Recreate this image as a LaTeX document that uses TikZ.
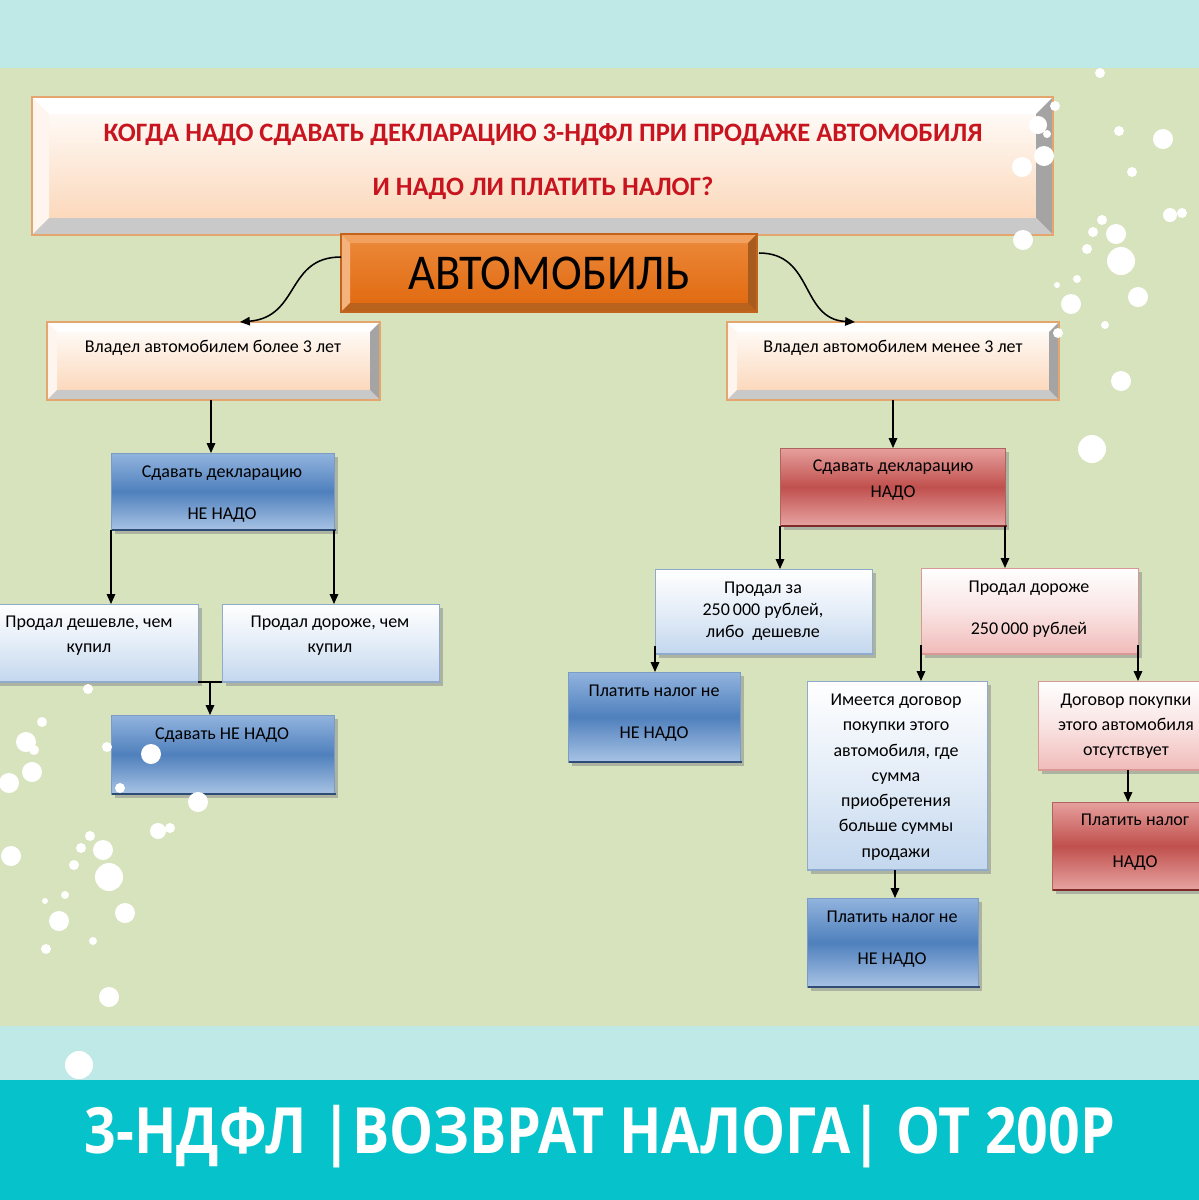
\documentclass[tikz,border=0pt]{standalone}
\usepackage{fontspec}
\setmainfont{Carlito}
\newfontfamily\bannerfont{Open Sans}
\usetikzlibrary{arrows.meta,calc,fit}
\definecolor{bandc}{HTML}{BEE9E6}
\definecolor{greenbg}{HTML}{D7E3BC}
\definecolor{tealc}{HTML}{06C2CA}
\definecolor{titler}{HTML}{C8141E}
\definecolor{peach}{HTML}{FBD3B2}
\definecolor{peachbd}{HTML}{E4A56E}
\definecolor{bvgrey}{HTML}{A4A4A4}
\definecolor{bvgrey2}{HTML}{C9C9C9}
\definecolor{bvlight}{HTML}{FEF5EE}
\definecolor{orA}{HTML}{EC8A3C}
\definecolor{orB}{HTML}{E0670C}
\definecolor{orL}{HTML}{F4B27C}
\definecolor{orT}{HTML}{F1A05E}
\definecolor{orR}{HTML}{A85B1E}
\definecolor{orD}{HTML}{B8621E}
\definecolor{orBd}{HTML}{C4641C}
\definecolor{blT}{HTML}{92B4DE}
\definecolor{blM}{HTML}{4F80BD}
\definecolor{blB}{HTML}{A8C3E4}
\definecolor{blBd}{HTML}{7C9CC6}
\definecolor{blDk}{HTML}{2E4C74}
\definecolor{rdT}{HTML}{E6A09E}
\definecolor{rdM}{HTML}{C0504D}
\definecolor{rdB}{HTML}{E7A4A2}
\definecolor{rdBd}{HTML}{B06462}
\definecolor{rdDk}{HTML}{7E2B29}
\definecolor{lbB}{HTML}{C3D7EE}
\definecolor{lbBd}{HTML}{8FAACB}
\definecolor{pkB}{HTML}{F0BBB9}
\definecolor{pkBd}{HTML}{D79896}
\tikzset{
  arr/.style={line width=1.1pt, -{Triangle[length=7pt,width=6pt]}},
  ln/.style={line width=1.1pt},
  lbl/.style={inner sep=0pt, align=center, font=\fontsize{12.8pt}{17.8pt}\selectfont},
  dotc/.style={fill=white},
}
\newcommand\mkbox[5]{\coordinate (#1-a) at (#2,#3); \coordinate (#1-b) at (#4,#5);
  \node[fit=(#1-a)(#1-b), inner sep=0pt, outer sep=0pt] (#1) {};}
\newcommand\bevel[9]{%
  \shade[top color=#3, bottom color=#4] (#1.north west) rectangle (#1.south east);
  \fill[#5] (#1.north west) -- (#1.north east) -- ($(#1.north east)+(-#2,#2)$) -- ($(#1.north west)+(#2,#2)$) -- cycle;
  \fill[#6] (#1.north west) -- ($(#1.north west)+(#2,#2)$) -- ($(#1.south west)+(#2,-#2)$) -- (#1.south west) -- cycle;
  \fill[#7] (#1.north east) -- (#1.south east) -- ($(#1.south east)+(-#2,-#2)$) -- ($(#1.north east)+(-#2,#2)$) -- cycle;
  \fill[#8] (#1.south west) -- (#1.south east) -- ($(#1.south east)+(-#2,-#2)$) -- ($(#1.south west)+(#2,-#2)$) -- cycle;
  \draw[#9, line width=0.8pt] (#1.north west) rectangle (#1.south east);
}
\newcommand\flatbox[6]{%
  \fill[black!45, opacity=.55] ($(#1.north west)+(4,4)$) rectangle ($(#1.south east)+(4,4)$);
  \shade[top color=#2, bottom color=#4, middle color=#3] (#1.north west) rectangle (#1.south east);
  \draw[#5, line width=0.6pt] (#1.north west) rectangle (#1.south east);
  \draw[#6, line width=2pt] ($(#1.south west)+(1,0)$) -- ($(#1.south east)+(2,0)$);
}
\begin{document}
\begin{tikzpicture}[x=0.25mm,y=-0.25mm]
\useasboundingbox (0,0) rectangle (1199,1200);
\clip (0,0) rectangle (1199,1200);
% background bands
\fill[bandc] (0,0) rectangle (1199,68);
\fill[greenbg] (0,68) rectangle (1199,1026);
\fill[bandc] (0,1026) rectangle (1199,1080);
\fill[tealc] (0,1080) rectangle (1199,1200);

% box geometry
\mkbox{title}{32}{97}{1053}{235}
\mkbox{avto}{341}{234}{757}{312}
\mkbox{vl1}{47}{322}{380}{400}
\mkbox{vl2}{727}{322}{1059}{400}
\mkbox{bl1}{111}{453}{334}{530}
\mkbox{pd1}{-6}{604}{198}{682}
\mkbox{pd2}{222}{604}{439}{682}
\mkbox{bl2}{111}{715}{334}{794}
\mkbox{rd1}{780}{448}{1005}{526}
\mkbox{pz}{655}{569}{872}{654}
\mkbox{pdr}{921}{568}{1138}{654}
\mkbox{bl3}{568}{672}{740}{762}
\mkbox{im}{807}{681}{987}{870}
\mkbox{dg}{1038}{681}{1212}{770}
\mkbox{rd2}{1052}{802}{1212}{890}
\mkbox{bl4}{807}{898}{978}{987}

% beveled boxes
\bevel{title}{17}{white}{peach}{white}{bvlight}{bvgrey}{bvgrey2}{peachbd}
\bevel{vl1}{10}{white}{peach}{white}{bvlight}{bvgrey}{bvgrey2}{peachbd}
\bevel{vl2}{10}{white}{peach}{white}{bvlight}{bvgrey}{bvgrey2}{peachbd}
\bevel{avto}{9}{orA}{orB}{orT}{orL}{orR}{orD}{orBd}

% flat boxes
\flatbox{bl1}{blT}{blM}{blB}{blBd}{blDk}
\flatbox{bl2}{blT}{blM}{blB}{blBd}{blDk}
\flatbox{bl3}{blT}{blM}{blB}{blBd}{blDk}
\flatbox{bl4}{blT}{blM}{blB}{blBd}{blDk}
\flatbox{rd1}{rdT}{rdM}{rdB}{rdBd}{rdDk}
\flatbox{rd2}{rdT}{rdM}{rdB}{rdBd}{rdDk}
\flatbox{pd1}{white}{lbB!45}{lbB}{lbBd}{lbBd}
\flatbox{pd2}{white}{lbB!45}{lbB}{lbBd}{lbBd}
\flatbox{pz}{white}{lbB!45}{lbB}{lbBd}{lbBd}
\flatbox{im}{white}{lbB!45}{lbB}{lbBd}{lbBd}
\flatbox{pdr}{white}{pkB!40}{pkB}{pkBd}{pkBd}
\flatbox{dg}{white}{pkB!40}{pkB}{pkBd}{pkBd}

% texts
\node[lbl, text=titler, font=\bfseries\fontsize{18.9pt}{38.4pt}\selectfont] (title-t) at (543,162)
  {КОГДА НАДО СДАВАТЬ ДЕКЛАРАЦИЮ 3-НДФЛ ПРИ ПРОДАЖЕ АВТОМОБИЛЯ\\И НАДО ЛИ ПЛАТИТЬ НАЛОГ?};
\node[lbl, font=\fontsize{33pt}{36pt}\selectfont] (avto-t) at (549,273) {\scalebox{1}[1.08]{АВТОМОБИЛЬ}};
\node[lbl] (vl1-t) at (213,348) {Владел автомобилем более 3 лет};
\node[lbl] (vl2-t) at (893,348) {Владел автомобилем менее 3 лет};
\node[lbl, font=\fontsize{12.8pt}{29.9pt}\selectfont] (bl1-t) at (222,494) {Сдавать декларацию\\НЕ НАДО};
\node[lbl] (pd1-t) at (89,636) {Продал дешевле, чем\\купил};
\node[lbl] (pd2-t) at (330,636) {Продал дороже, чем\\купил};
\node[lbl] (bl2-t) at (222,735) {Сдавать НЕ НАДО};
\node[lbl, font=\fontsize{12.8pt}{18.5pt}\selectfont] (rd1-t) at (893,480) {Сдавать декларацию\\НАДО};
\node[lbl, font=\fontsize{12.8pt}{15.6pt}\selectfont] (pz-t) at (763,611) {Продал за\\250\,000 рублей,\\либо~ дешевле};
\node[lbl, font=\fontsize{12.8pt}{29.9pt}\selectfont] (pdr-t) at (1029,609) {Продал дороже\\250\,000 рублей};
\node[lbl, font=\fontsize{12.8pt}{29.9pt}\selectfont] (bl3-t) at (654,713) {Платить налог не\\НЕ НАДО};
\node[lbl, font=\fontsize{12.8pt}{18pt}\selectfont] (im-t) at (896,777) {Имеется договор\\покупки этого\\автомобиля, где\\сумма\\приобретения\\больше суммы\\продажи};
\node[lbl, font=\fontsize{12.8pt}{18pt}\selectfont] (dg-t) at (1126,726) {Договор покупки\\этого автомобиля\\отсутствует};
\node[lbl, font=\fontsize{12.8pt}{29.9pt}\selectfont] (rd2-t) at (1135,842) {Платить налог\\НАДО};
\node[lbl, font=\fontsize{12.8pt}{29.9pt}\selectfont] (bl4-t) at (892,939) {Платить налог не\\НЕ НАДО};

% connectors
\coordinate (avL) at ($(avto.north west)+(0,23)$);
\coordinate (avR) at ($(avto.north east)+(2,19)$);
\coordinate (vl1top) at ($(vl1.north west)+(193,0)$);
\coordinate (vl2top) at ($(vl2.north west)+(128,0)$);
\draw[arr] (avL) .. controls ++(-55,0) and ++(60,-5) .. (vl1top);
\draw[arr] (avR) .. controls ++(55,0) and ++(-55,-3) .. (vl2top);

\coordinate (c1) at ($(vl1.south west)+(164,0)$);
\draw[arr] (c1) -- (c1 |- bl1.north);
\draw[arr] (bl1.south west) -- (bl1.south west |- pd1.north);
\draw[arr] (bl1.south east) -- (bl1.south east |- pd2.north);
\draw[ln] (pd1.south east) -- (pd2.south west);
\coordinate (pdmid) at ($(pd1.south east)!0.5!(pd2.south west)$);
\draw[arr] (pdmid) -- (pdmid |- bl2.north);

\coordinate (c2) at ($(vl2.south west)+(166,0)$);
\draw[arr] (c2) -- (c2 |- rd1.north);
\draw[arr] (rd1.south west) -- (rd1.south west |- pz.north);
\draw[arr] (rd1.south east) -- (rd1.south east |- pdr.north);
\coordinate (c3) at ($(pz.south west)+(0,-8)$);
\draw[arr] (c3) -- (c3 |- bl3.north);
\coordinate (c4) at ($(pdr.south west)+(0,-9)$);
\draw[arr] (c4) -- (c4 |- im.north);
\coordinate (c5) at ($(pdr.south east)+(0,-9)$);
\draw[arr] (c5) -- (c5 |- dg.north);
\coordinate (c6) at ($(dg.south west)+(90,0)$);
\draw[arr] (c6) -- (c6 |- rd2.north);
\coordinate (c7) at ($(im.south west)+(88,0)$);
\draw[arr] (c7) -- (c7 |- bl4.north);

% banner text
\node[text=white, inner sep=0pt] (banner) at (600,1137)
  {\resizebox{257.5mm}{!}{\scalebox{1}[1.15]{\bannerfont\bfseries 3-НДФЛ |ВОЗВРАТ НАЛОГА| ОТ 200Р}}};

% decorative dots
\foreach \x/\y/\r in {1100/73/5,1055/106/5,1038/125/9,1047/134/4,1044/156/10,1022/167/10,
  1119/131/5,1163/139/10,1132/172/5,1170/215/7,1182/213/5,1102/220/5,1093/232/5,1116/234/10,
  1087/249/5,1121/261/14,1023/240/10,1077/279/4,1057/285/3,1071/304/10,1138/297/10,1105/325/4,
  1058/333/5,1121/381/10,1092/449/14,
  88/689/5,42/722/5,26/742/10,34/750/5,32/772/10,9/783/10,107/747/5,151/754/10,120/788/5,
  198/802/10,158/831/8,170/828/5,90/836/5,81/848/5,103/850/10,74/865/5,109/877/14,11/856/10,
  65/895/4,45/901/3,125/913/10,59/921/10,93/941/4,46/949/5,109/997/10,79/1065/14}
  \fill[dotc] (\x,\y) circle[radius=\r];
\end{tikzpicture}
\end{document}
